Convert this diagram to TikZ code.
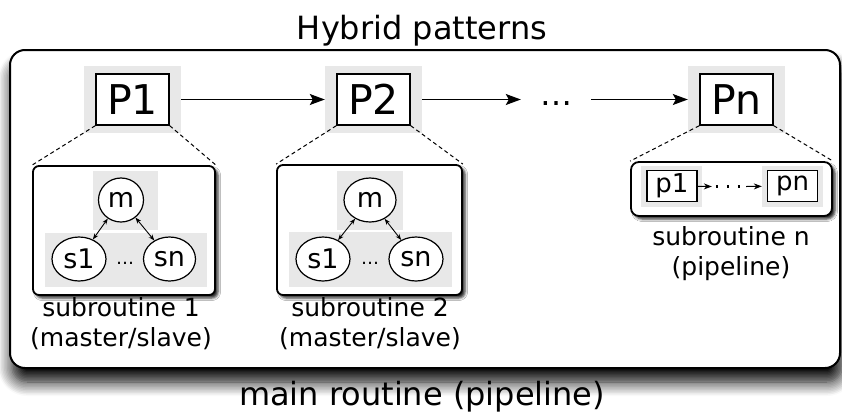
\documentclass[tikz,border=0pt]{standalone}
\usepackage{fontspec}
\setmainfont{DejaVu Sans}
\usetikzlibrary{arrows.meta,shapes.geometric,shadows.blur}
\definecolor{bggray}{gray}{0.91}
\tikzset{
 gbg/.style={fill=bggray, draw=none, inner sep=0pt},
 pbox/.style={draw, line width=1.3pt, fill=white, minimum width=73pt, minimum height=51pt, inner sep=0pt, font=\fontsize{41}{41}\selectfont},
 smallbox/.style={draw, line width=1.2pt, fill=white, minimum width=50pt, minimum height=31pt, inner sep=0pt, font=\fontsize{26}{26}\selectfont},
 subbox/.style={draw, line width=1.8pt, rounded corners=6pt, fill=white, inner sep=0pt, blur shadow={shadow xshift=3pt, shadow yshift=-3pt, shadow blur radius=2.5pt, shadow opacity=85}},
 outerbox/.style={draw, line width=2pt, rounded corners=15pt, fill=white, inner sep=0pt, blur shadow={shadow xshift=2pt, shadow yshift=-14pt, shadow blur radius=14pt, shadow blur steps=10, shadow opacity=100}},
 ell/.style={ellipse, draw, line width=1.2pt, fill=white, inner sep=0pt, minimum height=44pt, font=\fontsize{27}{27}\selectfont},
 bigarrow/.style={line width=1.3pt, -{Stealth[length=15pt,width=11pt,inset=3pt]}},
 smallarrow/.style={line width=1pt, -{Stealth[length=8pt,width=6pt]}},
 dbl/.style={line width=0.9pt, {Stealth[length=6pt,width=4.5pt]}-{Stealth[length=6pt,width=4.5pt]}},
 zoomline/.style={line width=1pt, dash pattern=on 4pt off 3pt},
 lbl/.style={align=center, inner sep=0pt, font=\fontsize{25}{30}\selectfont},
 bigtext/.style={font=\fontsize{32}{38}\selectfont, inner sep=0pt},
}
\begin{document}
\begin{tikzpicture}[x=1pt,y=-1pt]
\useasboundingbox (0,0) rectangle (842,415);

% outer box and titles
\node[outerbox, minimum width=830pt, minimum height=318pt] (main) at (425,209) {};
\node[bigtext, anchor=base] (title) at (422,39) {Hybrid patterns};
\node[bigtext, anchor=base] (mainlbl) at (422,405) {main routine (pipeline)};

% top-level stages
\node[gbg, minimum width=97pt, minimum height=67pt] (P1bg) at (132.5,99.5) {};
\node[pbox] (P1) at (P1bg) {P1};
\node[gbg, minimum width=97pt, minimum height=67pt] (P2bg) at (373.5,99.5) {};
\node[pbox] (P2) at (P2bg) {P2};
\node[gbg, minimum width=97pt, minimum height=67pt] (Pnbg) at (736.5,99.5) {};
\node[pbox] (Pn) at (Pnbg) {Pn};
\node[inner sep=0pt, minimum width=70pt, text height=0pt, text depth=0pt, font=\fontsize{32}{32}\selectfont] (pdots) at (556,99.5) {\raisebox{-6pt}{…}};

\draw[bigarrow] (P1bg) -- (P2bg);
\draw[bigarrow] (P2bg) -- (pdots);
\draw[bigarrow] (pdots) -- (Pnbg);

% subroutine 1
\node[subbox, minimum width=182pt, minimum height=129pt] (sub1) at (124,230.5) {};
\node[gbg, minimum width=65pt, minimum height=59pt] (m1bg) at (125.5,200.5) {};
\node[gbg, minimum width=162pt, minimum height=54pt] (s1bg) at (126,260) {};
\node[ell, minimum width=45pt] (m1) at (121,200) {m};
\node[ell, minimum width=54pt] (sa1) at (79,259) {s1};
\node[ell, minimum width=52pt] (sb1) at (169.5,259) {sn};
\node[inner sep=0pt, anchor=base, font=\fontsize{18}{18}\selectfont] (dots1) at (125,264) {…};
\draw[dbl] (m1) -- (sa1);
\draw[dbl] (m1) -- (sb1);
\draw[zoomline] (P1.south west) -- (sub1.north west);
\draw[zoomline] (P1.south east) -- (sub1.north east);
\node[lbl, anchor=north] (lbl1) at (121,297) {subroutine 1\\(master/slave)};

% subroutine 2
\node[subbox, minimum width=185pt, minimum height=130pt] (sub2) at (369.5,230) {};
\node[gbg, minimum width=66pt, minimum height=59pt] (m2bg) at (370,200.5) {};
\node[gbg, minimum width=163pt, minimum height=55pt] (s2bg) at (370.5,259.5) {};
\node[ell, minimum width=52pt] (m2) at (370,200) {m};
\node[ell, minimum width=54pt] (sa2) at (323,259) {s1};
\node[ell, minimum width=54pt] (sb2) at (416,259) {sn};
\node[inner sep=0pt, anchor=base, font=\fontsize{18}{18}\selectfont] (dots2) at (370,264) {…};
\draw[dbl] (m2) -- (sa2);
\draw[dbl] (m2) -- (sb2);
\draw[zoomline] (P2.south west) -- (sub2.north west);
\draw[zoomline] (P2.south east) -- (sub2.north east);
\node[lbl, anchor=north] (lbl2) at (370,297) {subroutine 2\\(master/slave)};

% subroutine n
\node[subbox, rounded corners=8pt, minimum width=201pt, minimum height=54pt] (subn) at (731.5,189) {};
\node[gbg, minimum width=61pt, minimum height=41pt] (p1bg) at (671.5,186) {};
\node[gbg, minimum width=61pt, minimum height=41pt] (pnbg) at (792.5,186) {};
\node[smallbox] (p1) at (672,186) {p1};
\node[smallbox] (pn) at (792.5,186) {pn};
\node[inner sep=0pt, minimum width=34pt, minimum height=2pt] (pd) at (729,186.5) {};
\draw[smallarrow] (p1) -- (pd.west);
\draw[line width=2.5pt, dash pattern=on 2.5pt off 8.5pt] ([xshift=4pt]pd.west) -- (pd.east);
\draw[smallarrow] (pd.east) -- (pnbg);
\draw[zoomline] (Pn.south west) -- (subn.north west);
\draw[zoomline] (Pn.south east) -- (subn.north east);
\node[lbl, anchor=north] (lbln) at (731,226) {subroutine n\\(pipeline)};
\end{tikzpicture}
\end{document}
